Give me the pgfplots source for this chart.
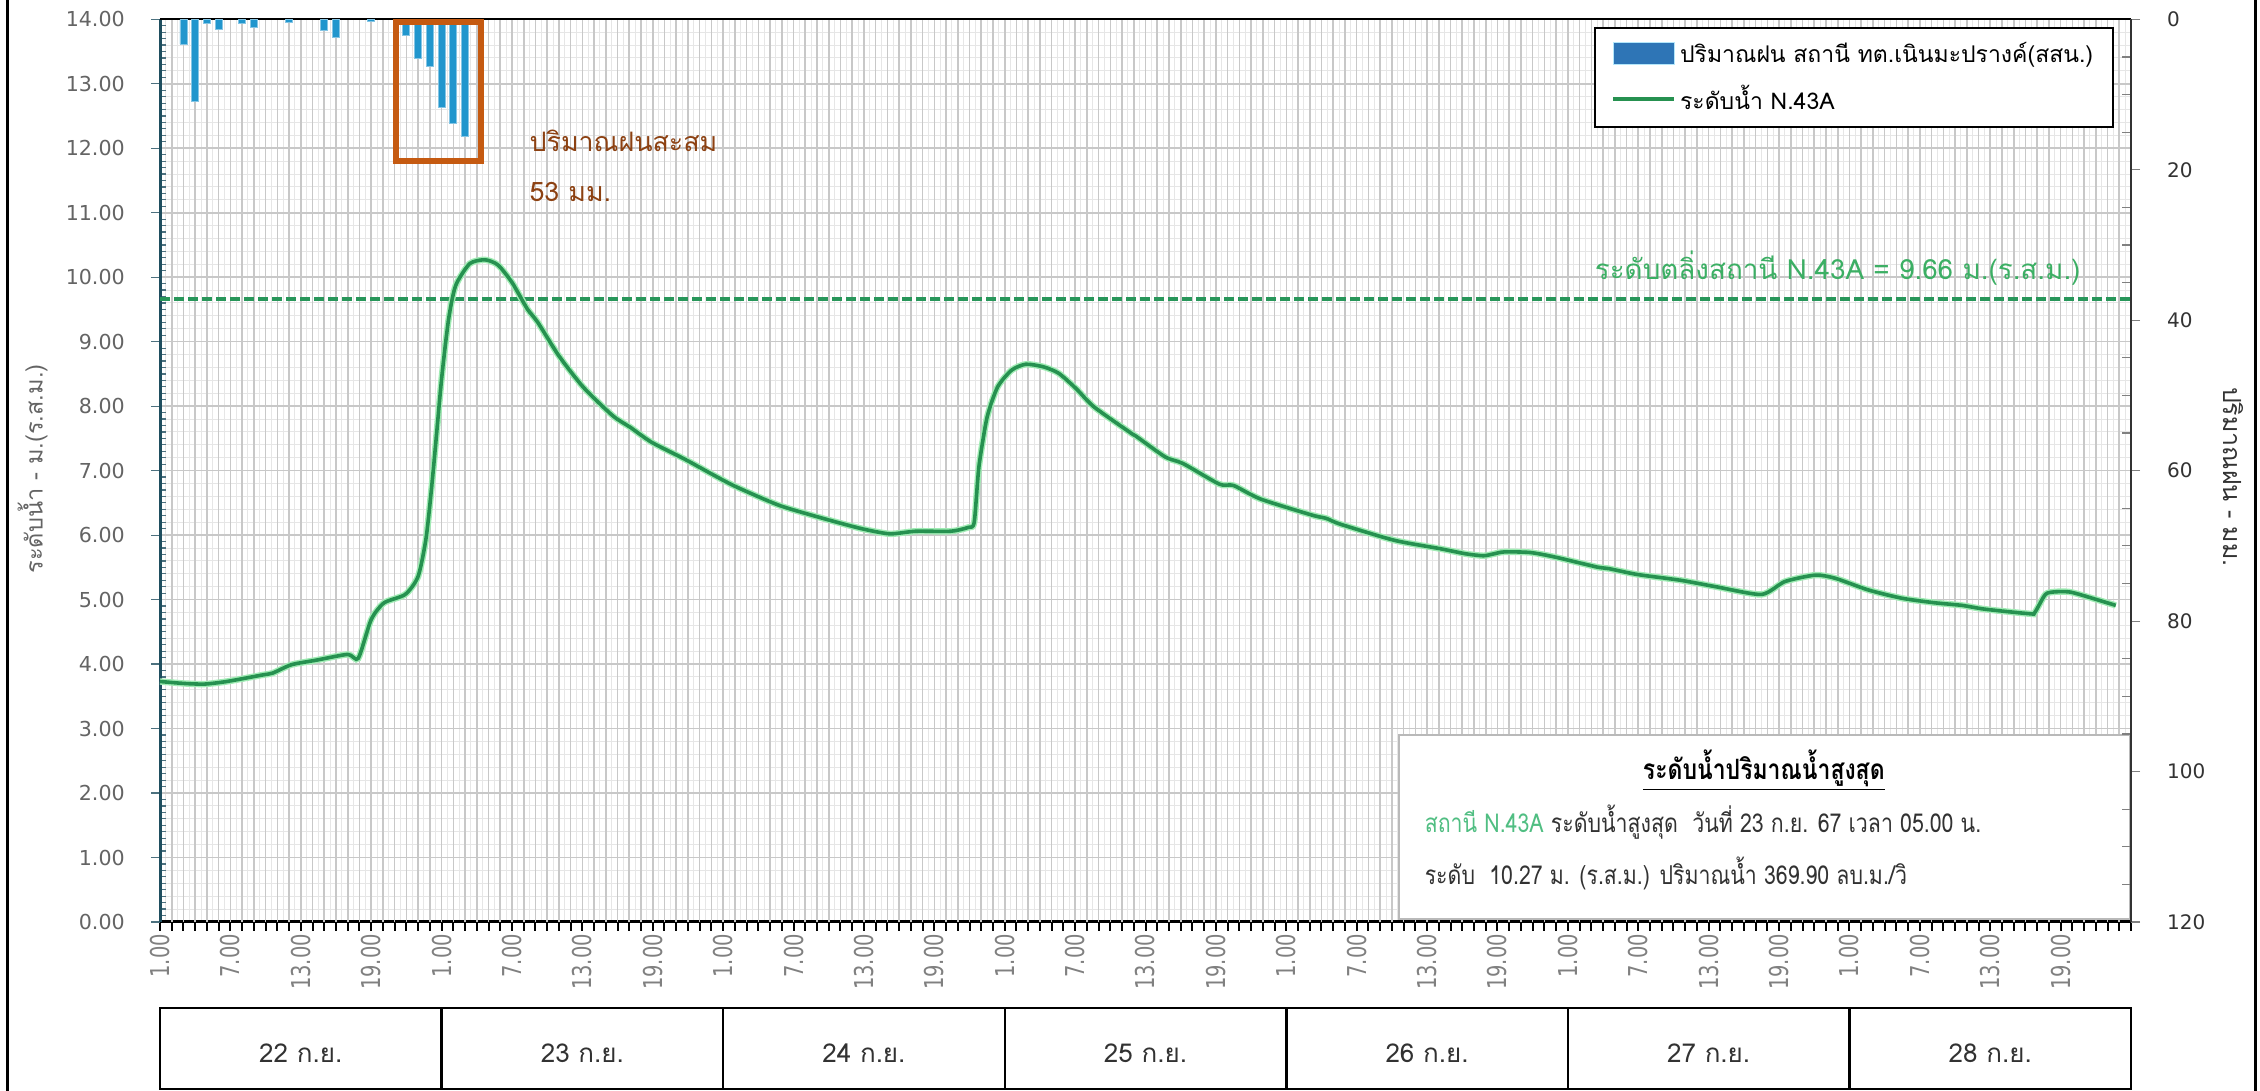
\documentclass[border=0pt]{standalone}
\usepackage{fontspec}
\usepackage{pgfplots}
\usepackage{pgfplotstable}
\pgfplotsset{compat=1.18}
\setmainfont[Script=Thai]{Loma}
\newfontfamily\thainarrow[Script=Thai,FakeStretch=0.82]{Loma}
\newfontfamily\numfont{DejaVu Sans}
\newfontfamily\xnumfont[FakeStretch=0.75]{DejaVu Sans}
\definecolor{gridgray}{RGB}{200,200,200}
\definecolor{lightgrid}{RGB}{230,230,230}
\definecolor{axisteal}{RGB}{31,78,95}
\definecolor{linegreen}{RGB}{38,145,80}
\definecolor{halogreen}{RGB}{160,235,180}
\definecolor{threshgreen}{RGB}{40,150,90}
\definecolor{threshtext}{RGB}{60,175,100}
\definecolor{infogreen}{RGB}{80,190,130}
\definecolor{boxorange}{RGB}{197,90,17}
\definecolor{annbrown}{RGB}{140,65,18}
\definecolor{rainblue}{RGB}{33,150,205}
\definecolor{legendblue}{RGB}{46,117,182}
\definecolor{ylabgray}{RGB}{100,100,100}
\definecolor{xlabgray}{RGB}{128,128,128}
\definecolor{daytext}{RGB}{50,50,50}

\pgfplotstableread{
h v
0 3.73
2 3.70
3.8 3.69
5.7 3.73
8.7 3.83
9.6 3.86
11.2 3.99
13.3 4.06
16.0 4.15
16.9 4.09
18.0 4.69
19.1 4.95
20.9 5.08
22.0 5.36
22.7 5.98
23.3 7.02
24.0 8.42
24.6 9.35
25.2 9.87
26.4 10.21
27.7 10.27
28.8 10.19
30.0 9.92
31.3 9.51
32.2 9.30
34.0 8.78
36.1 8.29
38.6 7.85
40.1 7.67
41.9 7.44
44.7 7.18
47.3 6.92
49.1 6.75
52.8 6.46
56.7 6.25
59.8 6.10
62.2 6.02
64.4 6.06
67.4 6.06
68.9 6.12
69.4 6.20
69.8 7.06
70.5 7.83
71.4 8.30
72.6 8.56
73.8 8.65
75.3 8.61
76.6 8.51
78.1 8.27
79.6 7.99
82.7 7.59
83.3 7.52
85.7 7.21
87.2 7.11
90.3 6.79
91.5 6.77
93.8 6.56
98.2 6.31
99.4 6.26
100.6 6.17
105.2 5.92
109.1 5.79
111.3 5.71
112.8 5.68
113.7 5.71
114.6 5.74
116.8 5.73
118.9 5.66
122.6 5.50
123.5 5.48
125.9 5.39
129.6 5.30
132.6 5.20
136.5 5.08
138.5 5.28
141.1 5.38
142.8 5.33
145.6 5.15
148.5 5.02
151.3 4.95
153.6 4.91
155.6 4.85
159.4 4.78
159.8 4.80
160.7 5.08
161.5 5.12
162.7 5.12
163.8 5.07
166.7 4.91
}\water

\pgfplotstableread{
h r
2 3.3
3 10.9
4 0.6
5 1.3
7 0.6
8 1.1
11 0.45
14 1.5
15 2.4
18 0.3
21 2.1
22 5.2
23 6.2
24 11.7
25 13.9
26 15.6
}\rain

\begin{document}
\begin{tikzpicture}
\useasboundingbox (0,0) rectangle (1130pt,545.5pt);
% light background grid
\begin{axis}[at={(80pt,84.5pt)}, anchor=south west, width=985.5pt, height=451.35pt, scale only axis,
  xmin=0, xmax=168, ymin=0, ymax=14,
  xtick={0,0.5,...,168}, ytick={0,0.2,...,14},
  xticklabels={}, yticklabels={}, major tick length=0pt,
  axis line style={draw=none},
  grid=major, major grid style={lightgrid, line width=0.5pt}]
\end{axis}
% main water-level axis
\begin{axis}[at={(80pt,84.5pt)}, anchor=south west, width=985.5pt, height=451.35pt, scale only axis,
  xmin=0, xmax=168, ymin=0, ymax=14, clip=false,
  axis x line*=bottom, axis y line*=left,
  x axis line style={black, line width=1.5pt, -},
  y axis line style={axisteal, line width=1.5pt, -},
  xtick={0,6,...,162},
  xticklabels={1.00,7.00,13.00,19.00,1.00,7.00,13.00,19.00,1.00,7.00,13.00,19.00,1.00,7.00,13.00,19.00,1.00,7.00,13.00,19.00,1.00,7.00,13.00,19.00,1.00,7.00,13.00,19.00},
  extra x ticks={1,...,168}, extra x tick labels={},
  extra x tick style={grid=major},
  ytick={0,1,...,14},
  yticklabels={0.00,1.00,2.00,3.00,4.00,5.00,6.00,7.00,8.00,9.00,10.00,11.00,12.00,13.00,14.00},
  minor y tick num=9,
  tick align=outside, major tick length=4.5pt, minor tick length=-3pt,
  x tick style={black, line width=1pt},
  y tick style={axisteal!80, line width=0.6pt},
  xmajorgrids, ymajorgrids, major grid style={gridgray, line width=0.8pt},
  xticklabel style={font=\xnumfont\fontsize{13}{13}\selectfont, color=xlabgray, rotate=90, anchor=east},
  xticklabel shift=-2pt,
  yticklabel style={font=\numfont\fontsize{10.3}{10}\selectfont, color=ylabgray},
  yticklabel shift=9.6pt,
  ylabel={ระดับน้ำ - ม.(ร.ส.ม.)},
  every axis y label/.style={at={(axis description cs:-0.0647,0.5018)}, rotate=90, anchor=center, font=\fontsize{11.8}{13}\selectfont, color=ylabgray}]
\addplot[threshgreen, line width=2pt, dash pattern=on 5pt off 2pt] coordinates {(0,9.66) (168,9.66)};
\addplot[halogreen, line width=3.2pt, smooth, tension=0.4] table[x=h,y=v] {\water};
\addplot[linegreen, line width=1.8pt, smooth, tension=0.4] table[x=h,y=v] {\water};
\node[anchor=west, color=annbrown, font=\fontsize{13.4}{15}\selectfont] at (axis cs:30.9,12.12) {ปริมาณฝนสะสม};
\node[anchor=west, color=annbrown, font=\fontsize{13.4}{15}\selectfont] at (axis cs:30.9,11.32) {53 มม.};
\node[anchor=center, color=threshtext, font=\fontsize{13.9}{15}\selectfont] at (axis cs:143.0,10.14) {ระดับตลิ่งสถานี N.43A = 9.66 ม.(ร.ส.ม.)};
\draw[gray!55, line width=1pt, fill=white] (axis cs:105.6,0.04) rectangle (axis cs:167.9,2.9);
\node[anchor=center, font=\thainarrow\fontsize{14}{16}\selectfont\bfseries] at (axis cs:136.7,2.36) {\underline{ระดับน้ำปริมาณน้ำสูงสุด}};
\node[anchor=west, font=\thainarrow\fontsize{13}{15}\selectfont, color=daytext] at (axis cs:107.2,1.55) {{\color{infogreen}สถานี N.43A} ระดับน้ำสูงสุด\ \ วันที่ 23 ก.ย. 67 เวลา 05.00 น.};
\node[anchor=west, font=\thainarrow\fontsize{13}{15}\selectfont, color=daytext] at (axis cs:107.2,0.76) {ระดับ\ \ 10.27 ม. (ร.ส.ม.) ปริมาณน้ำ 369.90 ลบ.ม./วิ};
\end{axis}
% rainfall axis (reversed, right)
\begin{axis}[at={(80pt,84.5pt)}, anchor=south west, width=985.5pt, height=451.35pt, scale only axis,
  xmin=0, xmax=168, ymin=0, ymax=120, y dir=reverse, clip=false,
  axis x line*=top, axis y line*=right,
  x axis line style={black, line width=1pt, -},
  y axis line style={black!80, line width=1pt, -},
  xtick=\empty,
  ytick={0,20,...,120}, yticklabels={0,20,40,60,80,100,120},
  minor y tick num=3,
  tick align=outside, major tick length=4.5pt, minor tick length=-4.5pt,
  y tick style={gray, line width=0.6pt},
  yticklabel style={font=\numfont\fontsize{10}{10}\selectfont, color=black!80},
  yticklabel shift=10pt,
  ylabel={ปริมาณฝน - มม.},
  every axis y label/.style={at={(axis description cs:1.0518,0.493)}, rotate=-90, anchor=center, font=\fontsize{12.5}{13}\selectfont, color=black!80},
  legend style={at={(axis description cs:0.7276,0.9915)}, anchor=north west, draw=black, line width=1pt, fill=white,
    font=\fontsize{11.5}{13}\selectfont, inner xsep=8pt, inner ysep=5pt, row sep=6pt},
  legend cell align=left]
\addlegendimage{legend image code/.code={\fill[legendblue, draw=cyan!30, line width=0.5pt] (0pt,-5.5pt) rectangle (30.5pt,5.5pt);}}
\addlegendentry{ปริมาณฝน สถานี ทต.เนินมะปรางค์(สสน.)}
\addlegendimage{legend image code/.code={\draw[linegreen, line width=2pt] (0pt,0pt) -- (30.5pt,0pt);}}
\addlegendentry{ระดับน้ำ N.43A}
\addplot[ybar, bar width=0.6, fill=rainblue, draw=rainblue!55!white, line width=0.4pt, forget plot] table[x=h,y=r] {\rain};
\draw[boxorange, line width=3pt] (axis cs:20.1,0.4) rectangle (axis cs:27.35,18.8);
\end{axis}
% date table
\foreach \i/\lab in {0/22 ก.ย.,1/23 ก.ย.,2/24 ก.ย.,3/25 ก.ย.,4/26 ก.ย.,5/27 ก.ย.,6/28 ก.ย.} {
  \draw[black, line width=1.2pt] ({80pt+\i*140.786pt},1pt) rectangle ({80pt+(\i+1)*140.786pt},41.5pt);
  \node[font=\fontsize{13}{14}\selectfont, color=daytext] at ({80pt+(\i+0.5)*140.786pt},19pt) {\lab};
}
% outer frame
\draw[black, line width=1.5pt] (3.5pt,0) -- (3.5pt,545.5pt);
\draw[black, line width=1.5pt] (1127.5pt,0) -- (1127.5pt,545.5pt);
\end{tikzpicture}
\end{document}
